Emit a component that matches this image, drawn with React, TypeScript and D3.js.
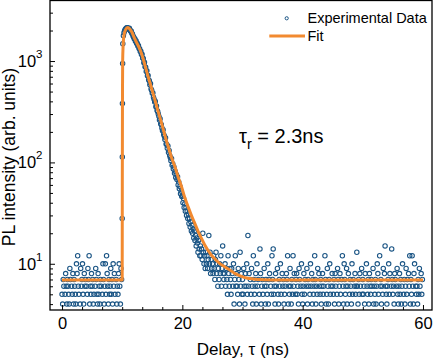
import React, { useEffect, useRef } from 'react';
import * as d3 from 'd3';

const W = 436;
const H = 360;

// TCSPC trace, one value every 0.1 ns
const stepNs = 0.1;

// 0.0 .. 9.9 ns, background before the pulse
const preStart = 0;
const preCounts = [
  5, 4, 7, 6, 3, 5, 8, 6, 4, 7,
  6, 5, 4, 9, 7, 3, 6, 5, 8, 4,
  7, 6, 5, 4, 10, 8, 12, 6, 5, 3,
  4, 9, 6, 7, 10, 5, 4, 8, 6, 7,
  3, 6, 5, 9, 7, 12, 4, 6, 5, 8,
  6, 7, 4, 5, 3, 6, 9, 7, 5, 4,
  8, 5, 6, 4, 7, 6, 3, 5, 10, 7,
  4, 6, 10, 5, 12, 8, 6, 4, 7, 5,
  6, 9, 5, 7, 4, 10, 6, 8, 5, 3,
  7, 4, 6, 5, 8, 10, 6, 4, 9, 7,
];

// rising edge, finer sampling
const edgeDelay = [10.0, 10.02, 10.04, 10.07, 10.1];
const edgeCounts = [28, 113, 382, 943, 1480];

// 10.2 .. 29.9 ns, decay
const decayStart = 10.2;
const decayCounts = [
  1780, 1900, 1985, 2050, 2085, 2120, 2135, 2130,
  2090, 2060, 2100, 2010, 1970, 1975, 1880, 1850, 1770, 1730,
  1660, 1655, 1570, 1585, 1490, 1500, 1410, 1420, 1330, 1325,
  1240, 1250, 1160, 1165, 1070, 1060, 960, 975, 880, 870,
  790, 800, 715, 720, 655, 640, 585, 600, 530, 515,
  480, 485, 440, 420, 395, 400, 355, 360, 325, 318,
  300, 285, 262, 270, 240, 235, 218, 205, 210, 188,
  182, 168, 175, 152, 150, 138, 145, 125, 131, 117,
  112, 104, 109, 94, 97, 86, 90, 78, 82, 71,
  76, 68, 72, 60, 64, 55, 58, 49, 52, 46,
  47, 40, 44, 36, 39, 33, 36, 30, 33, 28,
  31, 25, 28, 23, 26, 21, 24, 20, 22, 18,
  21, 17, 19, 15, 18, 16, 13, 17, 14, 12,
  15, 12, 14, 11, 20, 13, 10, 12, 9, 13,
  10, 12, 9, 11, 19, 10, 13, 8, 11, 9,
  10, 8, 12, 9, 7, 11, 13, 8, 10, 6,
  9, 7, 10, 8, 12, 6, 9, 15, 8, 7,
  8, 10, 6, 9, 7, 5, 12, 8, 6, 9,
  7, 5, 9, 8, 6, 10, 4, 7, 12, 6,
  8, 6, 5, 9, 7, 4, 13, 6, 8, 5,
];

// 30.0 .. 59.9 ns, background after the decay
const tailStart = 30.0;
const tailCounts = [
  7, 5, 9, 6, 4, 8, 6, 10, 5, 19,
  6, 8, 3, 7, 5, 9, 6, 4, 12, 7,
  5, 6, 8, 4, 10, 6, 7, 3, 5, 14,
  8, 4, 6, 7, 5, 3, 9, 6, 4, 7,
  6, 5, 10, 4, 7, 8, 3, 6, 5, 12,
  7, 14, 5, 6, 4, 8, 6, 3, 9, 5,
  4, 7, 6, 10, 5, 3, 8, 6, 7, 4,
  5, 6, 3, 8, 7, 12, 4, 6, 5, 9,
  6, 4, 7, 5, 12, 6, 8, 3, 5, 7,
  8, 5, 6, 4, 9, 7, 3, 6, 10, 5,
  4, 6, 8, 5, 7, 3, 6, 9, 4, 7,
  6, 3, 5, 10, 6, 8, 4, 7, 5, 6,
  12, 7, 4, 6, 5, 9, 3, 8, 6, 5,
  7, 4, 6, 8, 5, 6, 3, 12, 7, 4,
  5, 9, 6, 4, 7, 10, 5, 6, 3, 8,
  6, 5, 7, 4, 8, 6, 3, 5, 9, 7,
  4, 6, 8, 5, 3, 7, 12, 6, 4, 10,
  7, 5, 6, 9, 4, 6, 8, 3, 5, 7,
  6, 4, 10, 5, 7, 3, 6, 8, 5, 6,
  13, 6, 4, 7, 5, 8, 6, 3, 9, 5,
  7, 5, 6, 4, 8, 3, 10, 6, 5, 7,
  4, 8, 6, 5, 7, 6, 3, 9, 4, 6,
  5, 7, 4, 6, 10, 8, 5, 3, 12, 6,
  7, 4, 6, 5, 9, 3, 8, 15, 6, 5,
  4, 6, 7, 10, 5, 8, 3, 6, 14, 7,
  5, 6, 4, 8, 7, 3, 6, 9, 5, 4,
  6, 8, 5, 7, 4, 6, 10, 3, 5, 7,
  4, 6, 9, 5, 7, 3, 8, 6, 12, 4,
  7, 5, 12, 6, 4, 8, 10, 3, 6, 5,
  6, 4, 7, 5, 9, 6, 3, 8, 5, 7,
];

// fitted curve (tau_r = 2.3 ns)
const fitDelay = [
  0, 10.0, 10.02, 10.05, 10.08, 10.15, 10.3, 10.55, 10.9, 11.2, 11.6, 12.1,
  12.7, 13.25, 13.8, 14.34, 14.9, 15.46, 16.0, 16.57, 17.1, 17.67, 18.2,
  18.78, 19.3, 19.89, 20.4, 21.0, 21.5, 22.1, 22.6, 23.2, 23.7, 24.3, 24.8,
  25.4, 26.2, 27.1, 28.0, 28.8, 29.6, 30.4, 31.2, 32.0, 33.5, 35.0, 40, 50, 60,
];
const fitValue = [
  6.9, 6.9, 60, 500, 1000, 1400, 1800, 2030, 2140, 2090, 1930, 1650,
  1400, 1170, 900, 695, 535, 409, 315, 241, 185, 142, 112,
  90, 72, 57, 45, 36, 30, 24.8, 21, 17.7, 15.4, 13.5, 12.2,
  11.2, 10.1, 9.3, 8.6, 8.0, 7.6, 7.3, 7.15, 7.05, 6.95, 6.92, 6.9, 6.9, 6.9,
];

const xTicks = [0, 20, 40, 60];
const yTicks = [10, 100, 1000];
const yTickExp = ['1', '2', '3'];

const dataColor = '#1b5585';
const fitColor = '#f28a30';
const font = 'Liberation Sans, Arial, sans-serif';

export default function App() {
  const svgRef = useRef<SVGSVGElement>(null);

  useEffect(() => {
    const svg = d3.select(svgRef.current);
    svg.selectAll('*').remove();

    const left = 50, right = 432, top = 0.5, bottom = 310;
    const x = d3.scaleLinear().domain([-2, 61.5]).range([left, right]);
    const y = d3.scaleLog().domain([3.5, 4000]).range([bottom, 0]);

    const points: { t: number; v: number }[] = [];
    preCounts.forEach((v, i) => points.push({ t: preStart + i * stepNs, v }));
    edgeCounts.forEach((v, i) => points.push({ t: edgeDelay[i], v }));
    decayCounts.forEach((v, i) => points.push({ t: decayStart + i * stepNs, v }));
    tailCounts.forEach((v, i) => points.push({ t: tailStart + i * stepNs, v }));

    svg.append('defs').append('clipPath').attr('id', 'plotClip')
      .append('rect')
      .attr('x', left).attr('y', top)
      .attr('width', right - left).attr('height', bottom - top);

    const plot = svg.append('g').attr('clip-path', 'url(#plotClip)');

    plot.selectAll('circle')
      .data(points)
      .enter()
      .append('circle')
      .attr('cx', d => x(d.t))
      .attr('cy', d => y(d.v))
      .attr('r', 2.2)
      .attr('fill', 'none')
      .attr('stroke', dataColor)
      .attr('stroke-width', 1.1);

    const fit = fitDelay.map((t, i) => ({ t, v: fitValue[i] }));
    const line = d3.line<{ t: number; v: number }>()
      .x(d => x(d.t))
      .y(d => y(d.v))
      .curve(d3.curveMonotoneX);

    plot.append('path')
      .datum(fit)
      .attr('d', line)
      .attr('fill', 'none')
      .attr('stroke', fitColor)
      .attr('stroke-width', 3)
      .attr('stroke-linejoin', 'round');

    // axes, ticks pointing inward
    const xMinor = d3.range(1, 18).filter(i => i % 6 !== 0).map(i => (i * 20) / 6);
    const xAxis = svg.append('g')
      .attr('transform', `translate(0,${bottom})`)
      .call(d3.axisBottom(x).tickValues(xTicks).tickSizeInner(-5).tickSizeOuter(0).tickPadding(7));
    xAxis.select('.domain').remove();
    xAxis.selectAll('text').attr('font-size', 16.5).attr('font-family', font).attr('fill', '#000');

    const xMinorAxis = svg.append('g')
      .attr('transform', `translate(0,${bottom})`)
      .call(d3.axisBottom(x).tickValues(xMinor).tickSizeInner(-3).tickSizeOuter(0).tickFormat(() => ''));
    xMinorAxis.select('.domain').remove();

    const yMinor: number[] = [];
    [1, 10, 100, 1000].forEach(dec => {
      for (let k = 2; k <= 9; k++) {
        const v = k * dec;
        if (v > 3.5 && v < 4000) yMinor.push(v);
      }
    });
    const yAxis = svg.append('g')
      .attr('transform', `translate(${left},0)`)
      .call(d3.axisLeft(y).tickValues(yTicks).tickSizeInner(-5).tickSizeOuter(0).tickFormat(() => ''));
    yAxis.select('.domain').remove();
    const yMinorAxis = svg.append('g')
      .attr('transform', `translate(${left},0)`)
      .call(d3.axisLeft(y).tickValues(yMinor).tickSizeInner(-3).tickSizeOuter(0).tickFormat(() => ''));
    yMinorAxis.select('.domain').remove();
    svg.selectAll('.tick line').attr('stroke', '#000').attr('stroke-width', 1);

    yTicks.forEach((v, i) => {
      const txt = svg.append('text')
        .attr('x', 42.5)
        .attr('y', y(v) + 5.8)
        .attr('text-anchor', 'end')
        .attr('font-family', font)
        .attr('font-size', 16.5);
      txt.append('tspan').text('10');
      txt.append('tspan').attr('dy', -9).attr('font-size', 11.5).text(yTickExp[i]);
    });

    // frame
    svg.append('rect')
      .attr('x', left).attr('y', top)
      .attr('width', right - left).attr('height', bottom - top)
      .attr('fill', 'none')
      .attr('stroke', '#000')
      .attr('stroke-width', 1.3);

    // axis titles
    svg.append('text')
      .attr('x', 243).attr('y', 355)
      .attr('text-anchor', 'middle')
      .attr('font-family', font).attr('font-size', 17)
      .text('Delay, τ (ns)');

    svg.append('text')
      .attr('transform', 'translate(14.5,157) rotate(-90)')
      .attr('text-anchor', 'middle')
      .attr('font-family', font).attr('font-size', 17.5)
      .text('PL intensity (arb. units)');

    // lifetime annotation
    const ann = svg.append('text')
      .attr('x', 239).attr('y', 143.3)
      .attr('font-family', font).attr('font-size', 20);
    ann.append('tspan').text('τ');
    ann.append('tspan').attr('dy', 6).attr('font-size', 14.5).text('r');
    ann.append('tspan').attr('dy', -6).text(' = 2.3ns');

    // legend
    svg.append('circle')
      .attr('cx', 286.7).attr('cy', 18.3).attr('r', 1.6)
      .attr('fill', 'none').attr('stroke', dataColor).attr('stroke-width', 1);
    svg.append('text')
      .attr('x', 307.5).attr('y', 23.3)
      .attr('font-family', font).attr('font-size', 14.5)
      .text('Experimental Data');
    svg.append('line')
      .attr('x1', 269.3).attr('x2', 305)
      .attr('y1', 36).attr('y2', 36)
      .attr('stroke', fitColor).attr('stroke-width', 3);
    svg.append('text')
      .attr('x', 307.5).attr('y', 40.7)
      .attr('font-family', font).attr('font-size', 14.5)
      .text('Fit');
  }, []);

  return (
    <svg
      ref={svgRef}
      width={W}
      height={H}
      style={{ position: 'absolute', left: 0, top: 0, background: '#fff' }}
    />
  );
}
